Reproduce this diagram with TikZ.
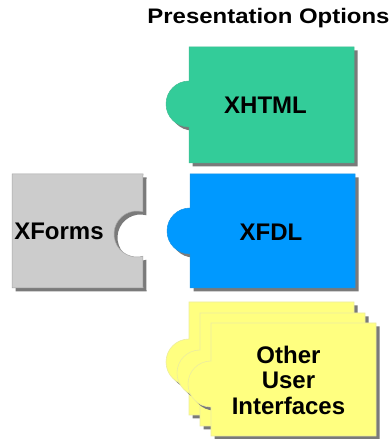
\documentclass[tikz,border=0pt]{standalone}
\usepackage{fontspec}
\setmainfont{Liberation Sans}
\definecolor{greenc}{HTML}{33CC99}
\definecolor{bluec}{HTML}{0099FF}
\definecolor{grayc}{HTML}{CCCCCC}
\definecolor{yellowc}{HTML}{FFFF80}
\definecolor{shadowc}{HTML}{7A7A7A}
\newcommand{\tabpath}[5]{(#1,#4) -- (#2,#4) -- (#2,#3) -- (#1,#3) -- (#1,#5-23) arc[start angle=-90,end angle=-270,radius=23] -- cycle}
\newcommand{\notchpath}[5]{(#1,#4) -- (#2,#4) -- ([shift={(75:23)}]#2-6,#5) arc[start angle=75,end angle=285,radius=23] -- (#2,#3) -- (#1,#3) -- cycle}
\tikzset{
  shadowfill/.style={fill=shadowc, shift={(3.5,-3.5)}},
  label/.style={font=\fontsize{24}{25.5}\selectfont\bfseries, text=black, inner sep=0pt, align=center},
  titlestyle/.style={font=\fontsize{21}{24}\selectfont\bfseries, text=black, inner sep=0pt}
}
\begin{document}
\begin{tikzpicture}[x=1pt,y=1pt]
\useasboundingbox (0,0) rectangle (391,439);
\fill[white] (0,0) rectangle (391,439);
% title
\node[titlestyle, anchor=base] (title) at (268.5,415) {\scalebox{1.14}[1]{Presentation Options}};
% XHTML
\fill[shadowfill] \tabpath{189}{354}{276}{392}{335};
\filldraw[fill=greenc, draw=greenc!80!gray, line width=0.5] \tabpath{189}{354}{276}{392}{335};
\node[label] (xhtml) at (265.5,334) {XHTML};
% XFDL
\fill[shadowfill] \tabpath{190}{355}{151}{265}{208};
\filldraw[fill=bluec, draw=bluec!80!gray, line width=0.5] \tabpath{190}{355}{151}{265}{208};
\node[label] (xfdl) at (271,207) {XFDL};
% XForms
\fill[shadowfill] \notchpath{12}{143}{151}{265}{205};
\filldraw[fill=grayc, draw=gray!70, line width=0.5] \notchpath{12}{143}{151}{265}{205};
\node[label] (xforms) at (59,208) {XForms};
% yellow stack
\fill[shadowfill] \tabpath{189}{354}{24}{137}{77};
\filldraw[fill=yellowc, draw=yellowc!70!white!85!gray, line width=0.6] \tabpath{189}{354}{24}{137}{77};
\fill[shadowfill] \tabpath{200}{365}{13}{126}{66};
\filldraw[fill=yellowc, draw=yellowc!70!white!85!gray, line width=0.6] \tabpath{200}{365}{13}{126}{66};
\fill[shadowfill] \tabpath{211}{376}{3}{116}{55};
\filldraw[fill=yellowc, draw=yellowc!70!white!85!gray, line width=0.6] \tabpath{211}{376}{3}{116}{55};
\node[label] (other) at (288.5,59) {Other\\User\\Interfaces};
\end{tikzpicture}
\end{document}
